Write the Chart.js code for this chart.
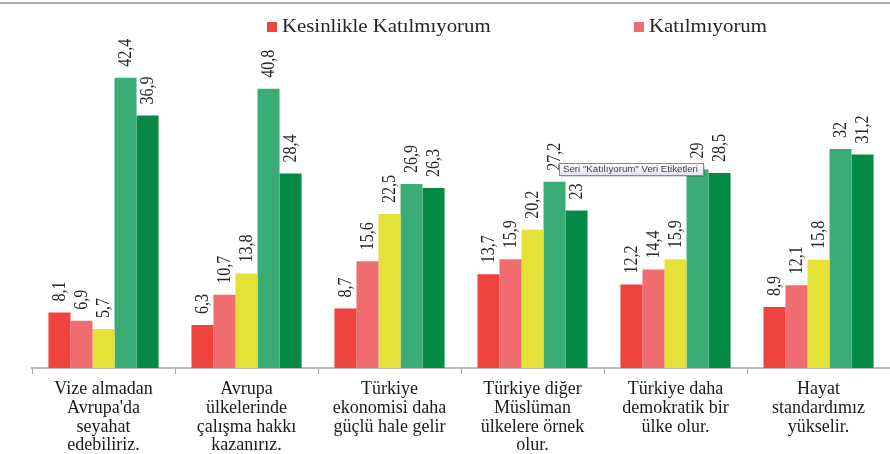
<!DOCTYPE html>
<html>
<head>
<meta charset="utf-8">
<script src="https://cdn.jsdelivr.net/npm/chart.js@4"></script>
<style>
  html, body { margin: 0; padding: 0; background: #ffffff; }
  #wrap { width: 890px; height: 454px; position: relative; }
</style>
</head>
<body>
<div id="wrap"><canvas id="bar_chart" width="890" height="454"></canvas></div>
<script>
// kategoriler (çok satırlı etiketler)
let categories = [
    ['Vize almadan', "Avrupa'da", 'seyahat', 'edebiliriz.'],
    ['Avrupa', 'ülkelerinde', 'çalışma hakkı', 'kazanırız.'],
    ['Türkiye', 'ekonomisi daha', 'güçlü hale gelir'],
    ['Türkiye diğer', 'Müslüman', 'ülkelere örnek', 'olur.'],
    ['Türkiye daha', 'demokratik bir', 'ülke olur.'],
    ['Hayat', 'standardımız', 'yükselir.']
];

let seriesNames = ['Kesinlikle Katılmıyorum', 'Katılmıyorum', 'Kararsızım', 'Katılıyorum', 'Kesinlikle Katılıyorum'];

let kesinlikleKatilmiyorum = [8.1, 6.3, 8.7, 13.7, 12.2, 8.9];
let katilmiyorum = [6.9, 10.7, 15.6, 15.9, 14.4, 12.1];
let kararsizim = [5.7, 13.8, 22.5, 20.2, 15.9, 15.8];
let katiliyorum = [42.4, 40.8, 26.9, 27.2, 29, 32];
let kesinlikleKatiliyorum = [36.9, 28.4, 26.3, 23, 28.5, 31.2];

let seriesColors = ['#EE433F', '#F06C6E', '#E4E236', '#3AAD76', '#058A45'];

// sadece ilk iki lejant görünüyor
let legendCount = 2;

//=======================================================//
function fmt(v) {
    return String(v).replace('.', ',');
}

// veri etiketleri: çubuğun üstünde dikey yazı
const valueLabels = {
    id: 'valueLabels',
    afterDatasetsDraw(chart) {
        let ctx = chart.ctx;
        ctx.save();
        ctx.font = '16px "Liberation Serif", "Times New Roman", serif';
        ctx.fillStyle = '#262626';
        ctx.textAlign = 'left';
        ctx.textBaseline = 'middle';
        chart.data.datasets.forEach(function (ds, i) {
            let meta = chart.getDatasetMeta(i);
            meta.data.forEach(function (bar, j) {
                ctx.save();
                ctx.translate(bar.x + 1, bar.y - 11);
                ctx.rotate(-Math.PI / 2);
                ctx.scale(1, 1.15);
                ctx.fillText(fmt(ds.data[j]), 0, 0);
                ctx.restore();
            });
        });
        ctx.restore();
    }
};

// üstteki gri çizgi, lejant ve Excel ipucu kutusu
const decorations = {
    id: 'decorations',
    afterDraw(chart) {
        let ctx = chart.ctx;
        ctx.save();
        ctx.strokeStyle = '#ababab';
        ctx.lineWidth = 2;
        ctx.beginPath();
        ctx.moveTo(0, 3);
        ctx.lineTo(890, 3);
        ctx.stroke();

        let legendX = [267, 634];
        ctx.font = '18px "Liberation Serif", "Times New Roman", serif';
        ctx.textBaseline = 'middle';
        ctx.textAlign = 'left';
        for (let i = 0; i < legendCount; i++) {
            let ds = chart.data.datasets[i];
            ctx.fillStyle = ds.backgroundColor;
            ctx.fillRect(legendX[i], 22, 10, 10);
            ctx.fillStyle = '#262626';
            ctx.save();
            ctx.translate(legendX[i] + 15, 27);
            ctx.scale(1.156, 1);
            ctx.fillText(ds.label, 0, 0);
            ctx.restore();
        }

        // ipucu kutusu
        let tx = 559, ty = 163, tw = 144, th = 12;
        let grad = ctx.createLinearGradient(0, ty, 0, ty + th);
        grad.addColorStop(0, '#ffffff');
        grad.addColorStop(1, '#e2e3ec');
        ctx.fillStyle = 'rgba(0,0,0,0.15)';
        ctx.fillRect(tx + 2, ty + 2, tw, th);
        ctx.fillStyle = grad;
        ctx.fillRect(tx, ty, tw, th);
        ctx.strokeStyle = '#8a8a8a';
        ctx.lineWidth = 1;
        ctx.strokeRect(tx + 0.5, ty + 0.5, tw, th);
        ctx.fillStyle = '#404040';
        ctx.font = '9px "Liberation Sans", sans-serif';
        let tip = 'Seri "Katılıyorum" Veri Etiketleri';
        let w = ctx.measureText(tip).width;
        ctx.save();
        ctx.translate(tx + 4, ty + th / 2 + 1);
        ctx.scale(135 / w, 1);
        ctx.fillText(tip, 0, 0);
        ctx.restore();
        ctx.restore();
    }
};

let values = [kesinlikleKatilmiyorum, katilmiyorum, kararsizim, katiliyorum, kesinlikleKatiliyorum];

let ctx = document.getElementById('bar_chart').getContext('2d');
let bar_chart = new Chart(ctx, {
    type: 'bar',
    data: {
        labels: categories,
        datasets: values.map(function (v, i) {
            return {
                label: seriesNames[i],
                data: v,
                backgroundColor: seriesColors[i],
                borderWidth: 0,
                categoryPercentage: 0.77,
                barPercentage: 1.0
            };
        })
    },
    options: {
        responsive: false,
        maintainAspectRatio: false,
        animation: false,
        layout: {
            padding: { left: 32, right: 0, top: 60, bottom: 0 }
        },
        scales: {
            x: {
                grid: {
                    display: true,
                    drawOnChartArea: false,
                    drawTicks: true,
                    tickLength: 6,
                    color: '#a6a6a6',
                    offset: true
                },
                border: { display: true, color: '#bdbdbd', width: 2 },
                ticks: {
                    color: '#1a1a1a',
                    padding: 6,
                    maxRotation: 0,
                    autoSkip: false,
                    font: { family: '"Liberation Serif", "Times New Roman", serif', size: 18, lineHeight: 1.04 }
                },
                afterFit: function (scale) {
                    scale.height = 86;
                }
            },
            y: {
                display: false,
                min: 0,
                max: 45
            }
        },
        plugins: {
            legend: { display: false },
            title: { display: false },
            tooltip: { enabled: false }
        }
    },
    plugins: [valueLabels, decorations]
});
</script>
</body>
</html>
